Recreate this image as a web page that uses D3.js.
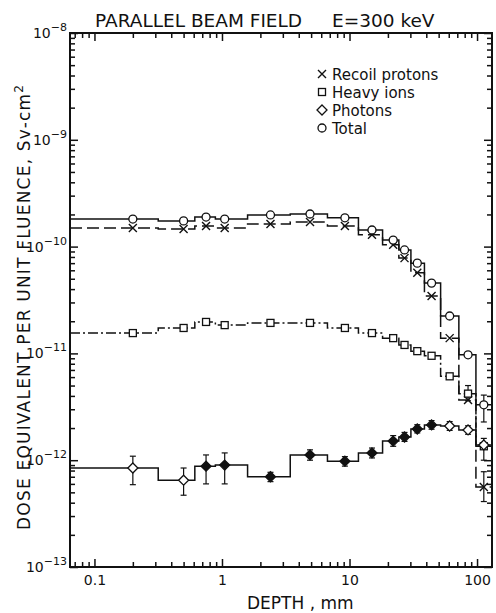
<!DOCTYPE html>
<html>
<head>
  <script src="https://d3js.org/d3.v7.min.js"></script>
  <style>
    body { margin: 0; background: #fff; }
    text { font-family: "DejaVu Sans", sans-serif; fill: #111; }
  </style>
</head>
<body>
<script>
// Depths (mm) of the plotted points, shared by all series
const depth   = [0.2, 0.5, 0.75, 1.05, 2.4, 4.9, 9.2, 15, 22, 27, 34, 44, 61, 85, 113];
// Dose equivalent per unit fluence, Sv-cm^2
const recoil  = [1.49e-10, 1.46e-10, 1.56e-10, 1.49e-10, 1.63e-10, 1.70e-10, 1.56e-10, 1.29e-10,
                 1.04e-10, 7.8e-11, 5.7e-11, 3.45e-11, 1.39e-11, 3.67e-12, 5.6e-13];
const heavy   = [1.55e-11, 1.73e-11, 1.97e-11, 1.84e-11, 1.93e-11, 1.93e-11, 1.73e-11, 1.55e-11,
                 1.39e-11, 1.2e-11, 1.05e-11, 9.5e-12, 6.1e-12, 4.2e-12, 1.35e-12];
const photons = [8.45e-13, 6.5e-13, 8.8e-13, 9.0e-13, 7.0e-13, 1.12e-12, 9.8e-13, 1.17e-12,
                 1.51e-12, 1.65e-12, 1.96e-12, 2.14e-12, 2.09e-12, 1.92e-12, 1.39e-12];
const total   = [1.81e-10, 1.74e-10, 1.89e-10, 1.81e-10, 1.98e-10, 2.02e-10, 1.86e-10, 1.43e-10,
                 1.15e-10, 9.3e-11, 7.0e-11, 4.55e-11, 2.24e-11, 9.7e-12, 3.3e-12];
// photon error bars (low / high)
const photonLo = [5.9e-13, 4.7e-13, 6.0e-13, 6.0e-13, 6.3e-13, 1.0e-12, 8.8e-13, 1.05e-12,
                  1.35e-12, 1.5e-12, 1.8e-12, 1.95e-12, 1.9e-12, 1.75e-12, 1.0e-12];
const photonHi = [1.09e-12, 8.45e-13, 1.12e-12, 1.17e-12, 7.7e-13, 1.25e-12, 1.08e-12, 1.3e-12,
                  1.7e-12, 1.82e-12, 2.15e-12, 2.35e-12, 2.3e-12, 2.1e-12, 1.6e-12];
// other error bars: [depth, low, high]
const otherErr = [[113, 2.28e-12, 4.07e-12], [113, 4.1e-13, 7.8e-13], [85, 3.6e-12, 5.0e-12]];

const xMajor = [0.1, 1, 10, 100];
const xLabels = ["0.1", "1", "10", "100"];
const yExp = [-8, -9, -10, -11, -12, -13];

const width = 496, height = 613;
const svg = d3.select("body").append("svg")
  .attr("width", width).attr("height", height);

const x = d3.scaleLog().domain([0.0643, 131]).range([70, 492]);
const y = d3.scaleLog().domain([1e-13, 1e-8]).range([567, 33]);
const [x0, x1] = x.range(), [y0, y1] = y.range();

// ---- axes (ticks on all four sides, pointing inward)
const xMinor = x.ticks().filter(t => !xMajor.some(m => Math.abs(m - t) < 1e-9));
const yMinor = y.ticks().filter(t => Math.abs(Math.log10(t) - Math.round(Math.log10(t))) > 1e-6);
const yMajor = yExp.map(e => Math.pow(10, e));

function addAxis(axisFn, scale, vals, size, tr, fmt) {
  const g = svg.append("g").attr("transform", tr)
    .call(axisFn(scale).tickValues(vals).tickSize(-size).tickSizeOuter(0)
      .tickFormat(fmt || (() => "")).tickPadding(8));
  g.select(".domain").remove();
  g.selectAll("line").attr("stroke", "#111").attr("stroke-width", 1.5);
  return g;
}
addAxis(d3.axisBottom, x, xMajor, 8, `translate(0,${y0})`, (d, i) => xLabels[i])
  .selectAll("text").attr("font-size", 14).attr("fill", "#111");
addAxis(d3.axisBottom, x, xMinor, 5, `translate(0,${y0})`);
addAxis(d3.axisTop, x, xMajor, 8, `translate(0,${y1})`);
addAxis(d3.axisTop, x, xMinor, 5, `translate(0,${y1})`);
addAxis(d3.axisLeft, y, yMajor, 8, `translate(${x0},0)`);
addAxis(d3.axisLeft, y, yMinor, 5, `translate(${x0},0)`);
addAxis(d3.axisRight, y, yMajor, 8, `translate(${x1},0)`);
addAxis(d3.axisRight, y, yMinor, 5, `translate(${x1},0)`);

svg.append("rect")
  .attr("x", x0).attr("y", y1).attr("width", x1 - x0).attr("height", y0 - y1)
  .attr("fill", "none").attr("stroke", "#111").attr("stroke-width", 2);

// y tick labels with superscript exponents
yExp.forEach(e => {
  const t = svg.append("text")
    .attr("x", x0 - 3).attr("y", y(Math.pow(10, e)) + 5)
    .attr("text-anchor", "end").attr("font-size", 14);
  t.append("tspan").text("10");
  t.append("tspan").attr("dy", -7).attr("font-size", 11).text("\u2212" + (-e));
});

// ---- step lines
function stepLine(vals) {
  const pts = depth.map((d, i) => [d, vals[i]]);
  pts.unshift([x.domain()[0], vals[0]]);
  pts.push([x.domain()[1], vals[vals.length - 1]]);
  return d3.line().x(d => x(d[0])).y(d => y(d[1])).curve(d3.curveStep)(pts);
}
const series = [
  {vals: total, dash: null},
  {vals: recoil, dash: "12,5"},
  {vals: heavy, dash: "10,3,2,3"},
  {vals: photons, dash: null}
];
series.forEach(s => {
  svg.append("path")
    .attr("d", stepLine(s.vals))
    .attr("fill", "none").attr("stroke", "#111").attr("stroke-width", 1.5)
    .attr("stroke-dasharray", s.dash);
});

// ---- error bars
function errBar(d, lo, hi) {
  const cx = x(d);
  svg.append("line").attr("x1", cx).attr("x2", cx).attr("y1", y(lo)).attr("y2", y(hi))
    .attr("stroke", "#111").attr("stroke-width", 1.2);
  [lo, hi].forEach(v => svg.append("line")
    .attr("x1", cx - 3).attr("x2", cx + 3).attr("y1", y(v)).attr("y2", y(v))
    .attr("stroke", "#111").attr("stroke-width", 1.2));
}
depth.forEach((d, i) => errBar(d, photonLo[i], photonHi[i]));
otherErr.forEach(e => errBar(e[0], e[1], e[2]));

// ---- markers
const sym = {
  cross: (g) => g.append("path").attr("d", "M-4,-4L4,4M-4,4L4,-4")
    .attr("stroke", "#111").attr("stroke-width", 1.4).attr("fill", "none"),
  square: (g) => g.append("rect").attr("x", -3.5).attr("y", -3.5).attr("width", 7).attr("height", 7)
    .attr("fill", "#fff").attr("stroke", "#111").attr("stroke-width", 1.3),
  diamond: (g, fill) => g.append("path").attr("d", "M0,-5L5,0L0,5L-5,0Z")
    .attr("fill", fill || "#fff").attr("stroke", "#111").attr("stroke-width", 1.3),
  circle: (g) => g.append("circle").attr("r", 4)
    .attr("fill", "#fff").attr("stroke", "#111").attr("stroke-width", 1.3)
};
function markers(vals, kind) {
  depth.forEach((d, i) => {
    const g = svg.append("g").attr("transform", `translate(${x(d)},${y(vals[i])})`);
    sym[kind](g, kind === "diamond" ? ((i < 2 || i > 11) ? "#fff" : "#111") : null);
  });
}
markers(recoil, "cross");
markers(heavy, "square");
markers(photons, "diamond");
markers(total, "circle");

// ---- legend
const legendItems = ["Recoil protons", "Heavy ions", "Photons", "Total"];
const legendSym = ["cross", "square", "diamond", "circle"];
legendItems.forEach((name, i) => {
  const g = svg.append("g").attr("transform", `translate(322,${74 + i * 18})`);
  sym[legendSym[i]](g);
  g.append("text").attr("x", 10).attr("y", 5.5).attr("font-size", 15).text(name);
});

// ---- titles
svg.append("text").attr("x", 95).attr("y", 27).attr("font-size", 18.5)
  .text("PARALLEL BEAM FIELD");
svg.append("text").attr("x", 332).attr("y", 27).attr("font-size", 18.5)
  .text("E=300 keV");
svg.append("text").attr("x", 247).attr("y", 609).attr("font-size", 17)
  .text("DEPTH , mm");
const yl = svg.append("text")
  .attr("transform", "translate(30,530) rotate(-90)")
  .attr("font-size", 17)
  .attr("textLength", 445).attr("lengthAdjust", "spacing");
yl.append("tspan").text("DOSE EQUIVALENT  PER UNIT  FLUENCE, Sv-cm");
yl.append("tspan").attr("dy", -7).attr("font-size", 12).text("2");
</script>
</body>
</html>
